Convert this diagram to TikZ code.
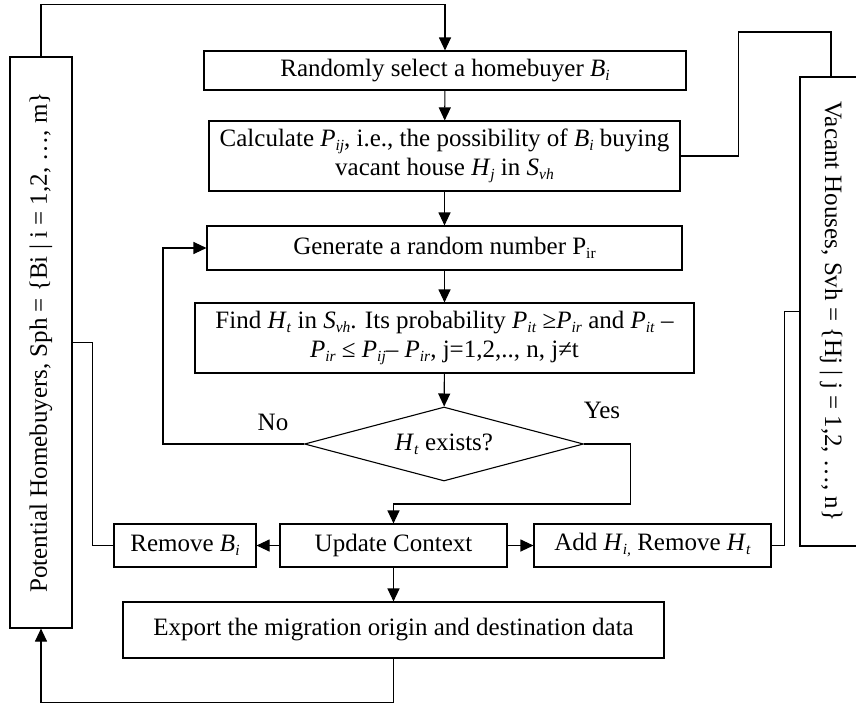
\documentclass[tikz,border=0pt]{standalone}
\usepackage{fontspec}
\setmainfont{Liberation Serif}
\usepackage{tikz}
\usetikzlibrary{positioning,shapes.geometric,arrows.meta}

\newcommand{\sbs}[1]{\raisebox{-0.35ex}{\fontsize{15.5}{16}\selectfont #1}}
\newcommand{\sv}[2]{\textit{#1}\sbs{\textit{#2}}}

\begin{document}
\begin{tikzpicture}[x=1pt,y=-1pt,line width=1.1pt,
  font=\fontsize{25}{29}\selectfont,
  >={Triangle[length=13pt,width=12pt]},
  box/.style={draw,rectangle,inner sep=0pt,align=center},
  decision/.style={draw,diamond,inner sep=0pt,aspect=3.77,minimum width=279pt,minimum height=74pt},
  setbox/.style={draw,rectangle,inner sep=0pt,minimum height=62pt}]
  \useasboundingbox (0,0) rectangle (856,704);
  \node[box,minimum width=482pt,minimum height=39pt] (sel)  at (445,70.5)  {Randomly select a homebuyer \sv{B}{i}};
  \node[box,minimum width=471pt,minimum height=70pt] (calc) at (444.5,156) {Calculate \sv{P}{ij}, i.e., the possibility of \sv{B}{i} buying\\vacant house \sv{H}{j} in \sv{S}{vh}};
  \node[box,minimum width=475pt,minimum height=44pt] (gen)  at (444.5,248) {Generate a random number P\sbs{ir}};
  \node[box,minimum width=499pt,minimum height=70pt] (find) at (444.5,338) {Find \sv{H}{t} in \sv{S}{vh}. Its probability \sv{P}{it} ≥\sv{P}{ir} and \sv{P}{it} –\\\sv{P}{ir} ≤ \sv{P}{ij}– \sv{P}{ir}, j=1,2,.., n, j≠t};
  \node[decision] (dia) at (444,444) {\sv{H}{t} exists?};
  \node (no)  at (273,422) {No};
  \node (yes) at (602,410) {Yes};
  \node[box,minimum width=227pt,minimum height=43pt] (upd) at (393.5,545.5) {Update Context};
  \node[box,minimum width=142pt,minimum height=43pt] (rem) at (185,545.5)   {Remove \sv{B}{i}};
  \node[box,minimum width=237pt,minimum height=43pt] (add) at (652.5,545.5) {Add \sv{H}{i,} Remove \sv{H}{t}};
  \node[box,minimum width=541pt,minimum height=56pt] (exp) at (393.5,630)   {Export the migration origin and destination data};
  \node[setbox,minimum width=571pt,rotate=90]  (pot) at (41,342.5) {Potential Homebuyers, Sph = \{Bi | i = 1,2, …, m\}};
  \node[setbox,minimum width=469pt,rotate=-90] (vh)  at (831,311.5) {Vacant Houses, Svh = \{Hj | j = 1,2, …, n\}};
  \path[->] (sel)  edge (calc);
  \path[->] (calc) edge (gen);
  \path[->] (gen)  edge (find);
  \path[->] (find) edge (dia);
  \path[->] (upd)  edge (rem);
  \path[->] (upd)  edge (add);
  \path[->] (upd)  edge (exp);
  \draw[->] (dia.west) -- ++(-141,0) |- (gen.west);
  \draw[->] (dia.east) -- ++(46,0) -- ++(0,60) -| (upd.north);
  \draw[->] (pot.east) -- ++(0,-52) -| (sel.north);
  \draw[->] (exp.south) -- ++(0,44) -| (pot.west);
  \draw (calc.east) -- ++(58,0) -- ++(0,-124) -| (vh.west);
  \draw (add.east) -- ++(13,0) |- (vh.south);
  \draw (rem.west) -- ++(-21,0) |- (pot.south);
\end{tikzpicture}
\end{document}
